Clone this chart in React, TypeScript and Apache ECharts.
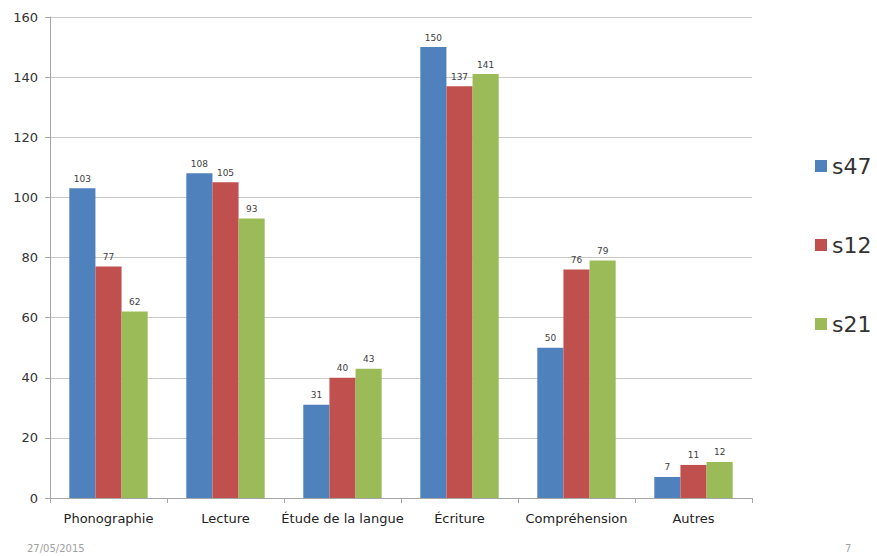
import React, { useEffect, useRef } from "react";
import * as echarts from "echarts";

const categories = ["Phonographie", "Lecture", "Étude de la langue", "Écriture", "Compréhension", "Autres"];
const s47 = [103, 108, 31, 150, 50, 7];
const s12 = [77, 105, 40, 137, 76, 11];
const s21 = [62, 93, 43, 141, 79, 12];
const seriesNames = ["s47", "s12", "s21"];
const colors = ["#4f81bd", "#c0504d", "#9bbb59"];
const footerDate = "27/05/2015";
const footerPage = "7";

const FONT = "DejaVu Sans";

export default function App() {
  const ref = useRef<HTMLDivElement>(null);
  useEffect(() => {
    const chart = echarts.init(ref.current!, null, { renderer: "svg" });
    const data = [s47, s12, s21];
    chart.setOption({
      animation: false,
      textStyle: { fontFamily: FONT },
      grid: { left: 50, top: 17, right: 125, bottom: 58, containLabel: false },
      legend: {
        orient: "vertical",
        left: 810,
        top: 150,
        itemWidth: 12,
        itemHeight: 12,
        itemGap: 57,
        icon: "rect",
        textStyle: { fontSize: 22, color: "#333", fontFamily: FONT, lineHeight: 22 },
        data: seriesNames,
      },
      xAxis: {
        type: "category",
        data: categories,
        axisLine: { lineStyle: { color: "#a6a6a6" } },
        axisTick: { show: true, length: 5, lineStyle: { color: "#a6a6a6" } },
        axisLabel: { fontSize: 13, color: "#222", margin: 14, interval: 0, fontFamily: FONT },
      },
      yAxis: {
        type: "value",
        min: 0,
        max: 160,
        interval: 20,
        axisLine: { show: true, lineStyle: { color: "#a6a6a6" } },
        axisTick: { show: true, length: 5, lineStyle: { color: "#a6a6a6" } },
        axisLabel: { fontSize: 13, color: "#333", margin: 12, fontFamily: FONT },
        splitLine: { lineStyle: { color: "#c8c8c8" } },
      },
      series: seriesNames.map((name, i) => ({
        name,
        type: "bar",
        data: data[i],
        barGap: "0%",
        barCategoryGap: "33%",
        itemStyle: { color: colors[i] },
        label: {
          show: true,
          position: "top",
          distance: 5,
          fontSize: 9,
          color: "#404040",
          fontFamily: FONT,
        },
      })),
      graphic: [
        { type: "text", left: 27, top: 543, style: { text: footerDate, fontSize: 10, fill: "#a0a0a0", fontFamily: FONT } },
        { type: "text", left: 845, top: 543, style: { text: footerPage, fontSize: 10, fill: "#a0a0a0", fontFamily: FONT } },
      ],
    });
    return () => chart.dispose();
  }, []);
  return (
    <div style={{ position: "absolute", left: 0, top: 0, width: 877, height: 556 }}>
      <div ref={ref} style={{ width: 877, height: 556 }} />
    </div>
  );
}
